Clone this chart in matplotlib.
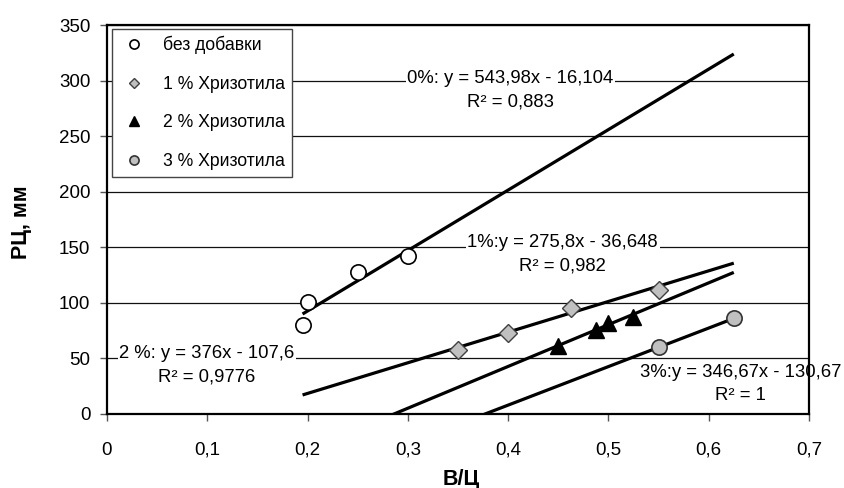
import numpy as np
import matplotlib
matplotlib.use('Agg')
import matplotlib.pyplot as plt

plt.rcParams['font.family'] = ['Liberation Sans', 'DejaVu Sans']

# Экспериментальные точки (В/Ц, РЦ в мм)
x0 = [0.195, 0.2, 0.25, 0.3]
y0 = [80, 101, 128, 142]
x1 = [0.35, 0.4, 0.4625, 0.55]
y1 = [58, 73, 95, 112]
x2 = [0.45, 0.4875, 0.5, 0.525]
y2 = [61, 76, 82, 87]
x3 = [0.55, 0.625]
y3 = [60, 86]

# Линии тренда: коэффициенты из подписей
k = [543.98, 275.8, 376.0, 346.67]
b = [-16.104, -36.648, -107.6, -130.67]
tr_x = [0.195, 0.625]

labels = ['без добавки', '1 % Хризотила', '2 % Хризотила', '3 % Хризотила']
eq_text = ['0%: y = 543,98x - 16,104\nR² = 0,883',
           '1%:y = 275,8x - 36,648\nR² = 0,982',
           '2 %: y = 376x - 107,6\nR² = 0,9776',
           '3%:y = 346,67x - 130,67\nR² = 1']
eq_pos = [(0.402, 291), (0.4545, 144), (0.0997, 43.5), (0.632, 27)]

fig = plt.figure(figsize=(8.45, 4.88), dpi=100)
ax = fig.add_axes([107/845, 74/488, 702/845, 389/488])

ax.set_xlim(0, 0.7)
ax.set_ylim(0, 350)
ax.set_xticks(np.arange(0, 0.71, 0.1))
ax.set_xticklabels(['0', '0,1', '0,2', '0,3', '0,4', '0,5', '0,6', '0,7'])
ax.set_yticks(range(0, 351, 50))
ax.yaxis.grid(True, color='#111111', lw=0.9)
ax.set_axisbelow(True)
ax.tick_params(axis='both', labelsize=13.5, length=5, width=1, color='#555555')
ax.tick_params(axis='x', pad=15)
ax.tick_params(axis='y', pad=7)
for sp in ax.spines.values():
    sp.set_linewidth(1.6)
    sp.set_zorder(6)

# тренды
xx = np.array(tr_x)
for kk, bb in zip(k, b):
    ax.plot(xx, kk * xx + bb, color='black', lw=2.3, zorder=2, solid_capstyle='butt')

ax.plot(x0, y0, 'o', ms=11, mfc='white', mec='black', mew=1.2, ls='none', label=labels[0], zorder=4)
ax.plot(x1, y1, 'D', ms=9, mfc='#c0c0c0', mec='#404040', mew=1.0, ls='none', label=labels[1], zorder=4)
ax.plot(x2, y2, '^', ms=12, mfc='black', mec='black', ls='none', label=labels[2], zorder=4)
ax.plot(x3, y3, 'o', ms=11, mfc='#c0c0c0', mec='#333333', mew=1.2, ls='none', label=labels[3], zorder=4)

for txt, (tx, ty) in zip(eq_text, eq_pos):
    ax.text(tx, ty, txt, fontsize=13.3, ha='center', va='center', multialignment='center',
            linespacing=1.5, zorder=5, clip_on=False,
            bbox=dict(facecolor='white', edgecolor='none', pad=1))

leg = ax.legend(loc='upper left', bbox_to_anchor=(112/845, 1 - 29/488),
                bbox_transform=fig.transFigure, borderaxespad=0, fontsize=12.7,
                markerscale=0.6, labelspacing=1.22, handlelength=1.7, handletextpad=0.8,
                borderpad=0.4, fancybox=False, framealpha=1, edgecolor='#444444')
leg.set_zorder(7)

fig.text(22/845, 1 - 222/488, 'РЦ, мм', rotation=90, fontsize=15.5, fontweight='bold',
         ha='center', va='center')
fig.text(461/845, 1 - 479/488, 'В/Ц', fontsize=15.5, fontweight='bold',
         ha='center', va='center')

fig.savefig('out.png', dpi=100)
